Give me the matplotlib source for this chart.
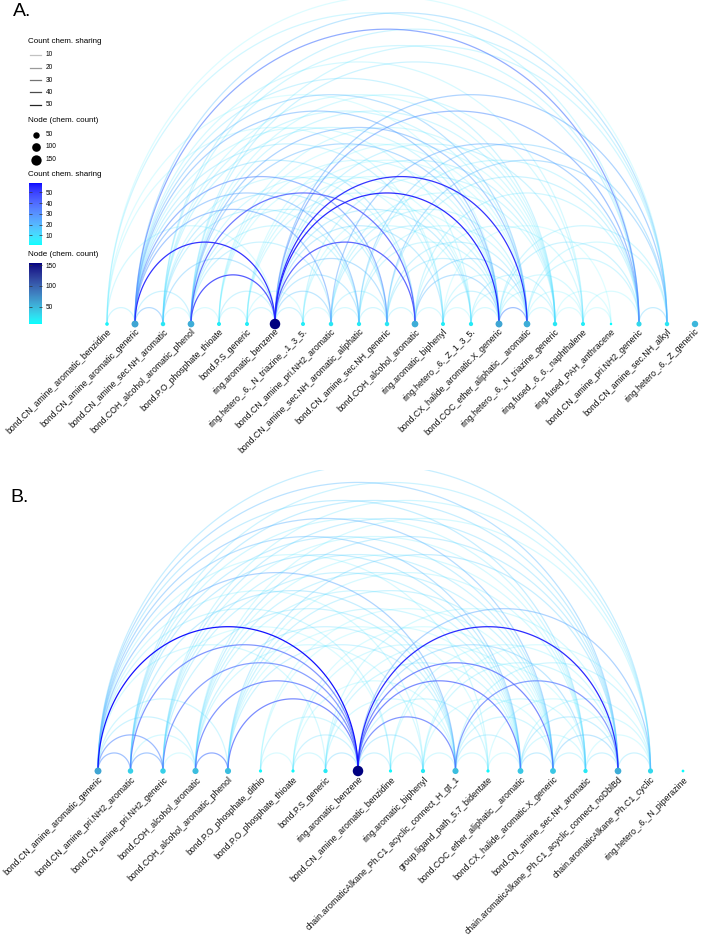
import numpy as np
import matplotlib
matplotlib.use("Agg")
import matplotlib.pyplot as plt
from matplotlib.colors import ListedColormap, Normalize
from matplotlib.cm import ScalarMappable

plt.rcParams['font.family'] = ['Liberation Sans', 'DejaVu Sans']

# ---------------- DATA ----------------
labels_A = [
    "bond.CN_amine_aromatic_benzidine", "bond.CN_amine_aromatic_generic",
    "bond.CN_amine_sec.NH_aromatic", "bond.COH_alcohol_aromatic_phenol",
    "bond.P.O_phosphate_thioate", "bond.P.S_generic", "ring.aromatic_benzene",
    "ring.hetero_.6._N_triazine_.1_3_5.", "bond.CN_amine_pri.NH2_aromatic",
    "bond.CN_amine_sec.NH_aromatic_aliphatic", "bond.CN_amine_sec.NH_generic",
    "bond.COH_alcohol_aromatic", "ring.aromatic_biphenyl", "ring.hetero_.6._Z_1_3_5.",
    "bond.CX_halide_aromatic.X_generic", "bond.COC_ether_aliphatic__aromatic",
    "ring.hetero_.6._N_triazine_generic", "ring.fused_.6_6._naphthalene",
    "ring.fused_PAH_anthracene", "bond.CN_amine_pri.NH2_generic",
    "bond.CN_amine_sec.NH_alkyl", "ring.hetero_.6._Z_generic",
]
counts_A = [15, 60, 22, 55, 18, 18, 156, 18, 22, 20, 22, 55, 18, 20, 60, 55, 22, 18, 9, 30, 22, 50]

edge_from_A = [0, 0, 0, 0, 0, 0,
               1, 1, 1, 1, 1, 1, 1, 1, 1, 1, 1, 1, 1, 1, 1,
               2, 2, 2, 2, 2, 2, 2, 2, 2, 2,
               3, 3, 3, 3, 3, 3, 3, 3, 3, 3, 3, 3, 3,
               4, 4, 4, 4, 4, 4,
               5, 5, 5, 5, 5, 5,
               6, 6, 6, 6, 6, 6, 6, 6, 6, 6, 6, 6, 6,
               7, 7, 7, 7,
               8, 8, 8, 8, 8, 8,
               9, 9, 9, 9, 9,
               10, 10, 10, 10, 10,
               11, 11, 11, 11, 11,
               12, 12, 12, 12,
               13, 13, 13,
               14, 14, 14, 14, 14,
               15, 15, 15, 15,
               16, 16, 17, 17, 19]
edge_to_A = [1, 6, 12, 19, 20, 14,
             2, 3, 6, 8, 9, 10, 11, 12, 14, 15, 16, 17, 19, 20, 13,
             3, 6, 9, 10, 14, 15, 16, 19, 20, 11,
             4, 6, 11, 14, 15, 12, 16, 17, 19, 20, 8, 9, 10,
             5, 6, 13, 14, 15, 16,
             6, 7, 13, 14, 15, 16,
             7, 8, 9, 10, 11, 12, 13, 14, 15, 16, 17, 19, 20,
             8, 13, 16, 14,
             9, 10, 14, 15, 19, 16,
             10, 14, 15, 20, 19,
             11, 14, 15, 20, 19,
             12, 14, 15, 19, 17,
             13, 14, 15, 18,
             14, 16, 15,
             15, 16, 17, 19, 20,
             16, 17, 19, 20,
             17, 18, 18, 19, 20]
edge_count_A = [10, 8, 6, 10, 5, 5,
                22, 12, 55, 28, 25, 32, 15, 12, 25, 20, 12, 8, 35, 18, 8,
                6, 18, 12, 14, 10, 10, 8, 10, 12, 8,
                6, 50, 45, 22, 25, 8, 10, 8, 12, 10, 12, 10, 12,
                8, 12, 6, 8, 6, 8,
                10, 6, 8, 8, 6, 6,
                12, 18, 16, 20, 48, 15, 14, 56, 55, 12, 12, 30, 25,
                6, 8, 10, 6,
                8, 10, 12, 10, 25, 8,
                10, 10, 8, 18, 10,
                10, 12, 12, 20, 12,
                8, 20, 18, 10, 8,
                6, 12, 8, 4,
                8, 10, 6,
                30, 10, 8, 12, 10,
                8, 6, 10, 8,
                6, 5, 5, 6, 15]

labels_B = [
    "bond.CN_amine_aromatic_generic", "bond.CN_amine_pri.NH2_aromatic",
    "bond.CN_amine_pri.NH2_generic", "bond.COH_alcohol_aromatic",
    "bond.COH_alcohol_aromatic_phenol", "bond.P.O_phosphate_dithio",
    "bond.P.O_phosphate_thioate", "bond.P.S_generic", "ring.aromatic_benzene",
    "bond.CN_amine_aromatic_benzidine", "ring.aromatic_biphenyl",
    "chain.aromaticAlkane_Ph.C1_acyclic_connect_H_gt_1",
    "group.ligand_path_5.7_bidentate", "bond.COC_ether_aliphatic__aromatic",
    "bond.CX_halide_aromatic.X_generic", "bond.CN_amine_sec.NH_aromatic",
    "chain.aromaticAlkane_Ph.C1_acyclic_connect_noDblBd",
    "chain.aromaticAlkane_Ph.C1_cyclic", "ring.hetero_.6._N_piperazine",
]
counts_B = [60, 35, 35, 45, 45, 12, 12, 20, 156, 12, 20, 45, 12, 40, 40, 20, 55, 30, 10]

edge_from_B = [0] * 15 + [1] * 10 + [2] * 8 + [3] * 9 + [4] * 7 + [5] * 4 + [6] * 5 + \
              [7] * 5 + [8] * 9 + [9] * 3 + [10] * 4 + [11] * 6 + [12] * 2 + [13] * 4 + \
              [14] * 3 + [15] * 2 + [16]
edge_to_B = [1, 2, 3, 4, 8, 9, 10, 11, 12, 13, 14, 15, 16, 17, 7,
             2, 3, 8, 9, 11, 13, 14, 16, 17, 15,
             3, 8, 11, 13, 14, 16, 15, 17,
             4, 8, 11, 13, 14, 16, 15, 10, 17,
             8, 11, 13, 14, 16, 15, 12,
             6, 8, 13, 14,
             7, 8, 13, 14, 11,
             8, 11, 13, 14, 16,
             9, 10, 11, 12, 13, 14, 15, 16, 17,
             10, 15, 16,
             11, 16, 14, 17,
             12, 13, 14, 16, 17, 15,
             13, 16,
             14, 16, 15, 17,
             15, 16, 17,
             16, 17,
             17]
edge_count_B = [30, 32, 12, 10, 58, 10, 8, 25, 8, 20, 22, 15, 20, 15, 8,
                28, 8, 40, 6, 15, 15, 14, 15, 12, 10,
                6, 38, 12, 12, 12, 14, 8, 10,
                35, 40, 12, 10, 12, 14, 8, 8, 8,
                42, 12, 10, 12, 15, 8, 6,
                6, 10, 6, 6,
                8, 12, 8, 6, 6,
                15, 8, 10, 8, 8,
                12, 15, 40, 10, 42, 42, 18, 56, 25,
                6, 6, 8,
                8, 10, 6, 6,
                8, 12, 10, 38, 10, 8,
                6, 6,
                15, 14, 8, 8,
                10, 18, 8,
                12, 6,
                12]

legend_alpha_values = [10, 20, 30, 40, 50]
legend_size_values = [50, 100, 150]

# ---------------- COLOUR HELPERS (Lab interpolation like ggplot) ----------------
def _srgb_to_lin(c):
    c = np.asarray(c, float)
    return np.where(c <= 0.04045, c / 12.92, ((c + 0.055) / 1.055) ** 2.4)

def _lin_to_srgb(c):
    c = np.clip(c, 0, 1)
    return np.where(c <= 0.0031308, 12.92 * c, 1.055 * c ** (1 / 2.4) - 0.055)

M = np.array([[0.4124, 0.3576, 0.1805], [0.2126, 0.7152, 0.0722], [0.0193, 0.1192, 0.9505]])
Minv = np.linalg.inv(M)
WHITE = np.array([0.95047, 1.0, 1.08883])

def rgb_to_lab(rgb):
    xyz = M @ _srgb_to_lin(rgb) / WHITE
    f = np.where(xyz > 0.008856, np.cbrt(xyz), 7.787 * xyz + 16 / 116)
    return np.array([116 * f[1] - 16, 500 * (f[0] - f[1]), 200 * (f[1] - f[2])])

def lab_to_rgb(lab):
    L, a, b = lab
    fy = (L + 16) / 116
    fx = fy + a / 500
    fz = fy - b / 200
    f = np.array([fx, fy, fz])
    xyz = np.where(f ** 3 > 0.008856, f ** 3, (f - 16 / 116) / 7.787) * WHITE
    return _lin_to_srgb(Minv @ xyz)

def make_cmap(low, high, n=256):
    l1, l2 = rgb_to_lab(low), rgb_to_lab(high)
    cols = [np.clip(lab_to_rgb(l1 + (l2 - l1) * t), 0, 1) for t in np.linspace(0, 1, n)]
    return ListedColormap(cols)

edge_cmap = make_cmap([0, 1, 1], [0, 0, 1])
node_cmap = make_cmap([0, 1, 1], [0, 0, 128 / 255])
EMIN, EMAX = 1, 59
NMIN, NMAX = 8, 156
edge_norm = Normalize(EMIN, EMAX)
node_norm = Normalize(NMIN, NMAX)

def edge_alpha(c):
    return 0.1 + 0.9 * (c - EMIN) / (EMAX - EMIN)

def node_s(c):
    t = np.clip((np.asarray(c, float) - NMIN) / (NMAX - NMIN), 0, 1)
    d_px = 1.75 * (1 + 5 * np.sqrt(t))
    return (d_px * 0.72) ** 2

# ---------------- FIGURE ----------------
W, H = 701, 944
fig = plt.figure(figsize=(W / 100, H / 100), dpi=100)

def panel(top_px, bot_px, x0_px, step_px, base_px, k, labels, counts, ef, et, ec):
    ax = fig.add_axes([0, 1 - bot_px / H, 1, (bot_px - top_px) / H])
    ax.set_xlim(-x0_px / step_px, (W - x0_px) / step_px)
    ax.set_ylim(-(bot_px - base_px) / step_px, (base_px - top_px) / step_px)
    ax.axis('off')
    th = np.linspace(0, np.pi, 120)
    order = np.argsort(ec, kind='stable')
    for idx in order:
        i, j, c = ef[idx], et[idx], ec[idx]
        cx, r = (i + j) / 2, abs(j - i) / 2
        ax.plot(cx + r * np.cos(th), k * r * np.sin(th), color=edge_cmap(edge_norm(c)),
                alpha=edge_alpha(c), lw=0.9, solid_capstyle='round', zorder=2)
    xs = np.arange(len(labels))
    ax.scatter(xs, np.zeros(len(xs)), s=node_s(counts), c=counts, cmap=node_cmap,
               norm=node_norm, linewidths=0, zorder=5)
    for x, lab in zip(xs, labels):
        ax.text(x + 0.1, -0.22, lab, rotation=45, ha='right', va='center',
                rotation_mode='anchor', fontsize=6.3, color='#111111')
    return ax

axA = panel(0, 470, 107, 28.0, 324, 1.17, labels_A, counts_A, edge_from_A, edge_to_A, edge_count_A)
axB = panel(470, 944, 98, 32.5, 771, 1.11, labels_B, counts_B, edge_from_B, edge_to_B, edge_count_B)

fig.text(13 / W, 1 - 12 / H, "A.", fontsize=14, va='center', ha='left')
fig.text(10 / W, 1 - 497 / H, "B.", fontsize=14, va='center', ha='left')

# ---------------- LEGEND (panel A, left) ----------------
lg = fig.add_axes([0, 0, 1, 1])
lg.set_xlim(0, W)
lg.set_ylim(H, 0)
lg.axis('off')
lg.patch.set_alpha(0)

tfs, lfs = 5.8, 4.7
lg.text(28, 41.5, "Count chem. sharing", fontsize=tfs, va='center', ha='left')
for v, y in zip(legend_alpha_values, [55, 67.5, 80, 92.3, 105]):
    lg.plot([30, 41], [y, y], color='black', alpha=edge_alpha(v), lw=0.9)
    lg.text(46, y, str(v), fontsize=lfs, va='center', ha='left')
lg.text(28, 121, "Node (chem. count)", fontsize=tfs, va='center', ha='left')
for v, y in zip(legend_size_values, [134.7, 147, 159.7]):
    lg.scatter([35.5], [y], s=node_s(v), color='black', linewidths=0)
    lg.text(46, y, str(v), fontsize=lfs, va='center', ha='left')
lg.text(28, 175, "Count chem. sharing", fontsize=tfs, va='center', ha='left')
lg.text(28, 255, "Node (chem. count)", fontsize=tfs, va='center', ha='left')

def cbar(y_top, y_bot, cmap, norm, ticks):
    cax = fig.add_axes([29.3 / W, 1 - y_bot / H, 12.4 / W, (y_bot - y_top) / H])
    cb = fig.colorbar(ScalarMappable(norm=norm, cmap=cmap), cax=cax, ticks=ticks)
    cb.outline.set_visible(False)
    cax.tick_params(axis='y', which='both', direction='in', length=2.5, width=0.5,
                    colors='#333333', labelsize=lfs, left=True, right=True, pad=3)
    cax.yaxis.set_tick_params(labelcolor='black')
    return cb

cbar(182.7, 245, edge_cmap, edge_norm, [10, 20, 30, 40, 50])
cbar(262.7, 324, node_cmap, node_norm, [50, 100, 150])

fig.savefig("out.png", dpi=100)
